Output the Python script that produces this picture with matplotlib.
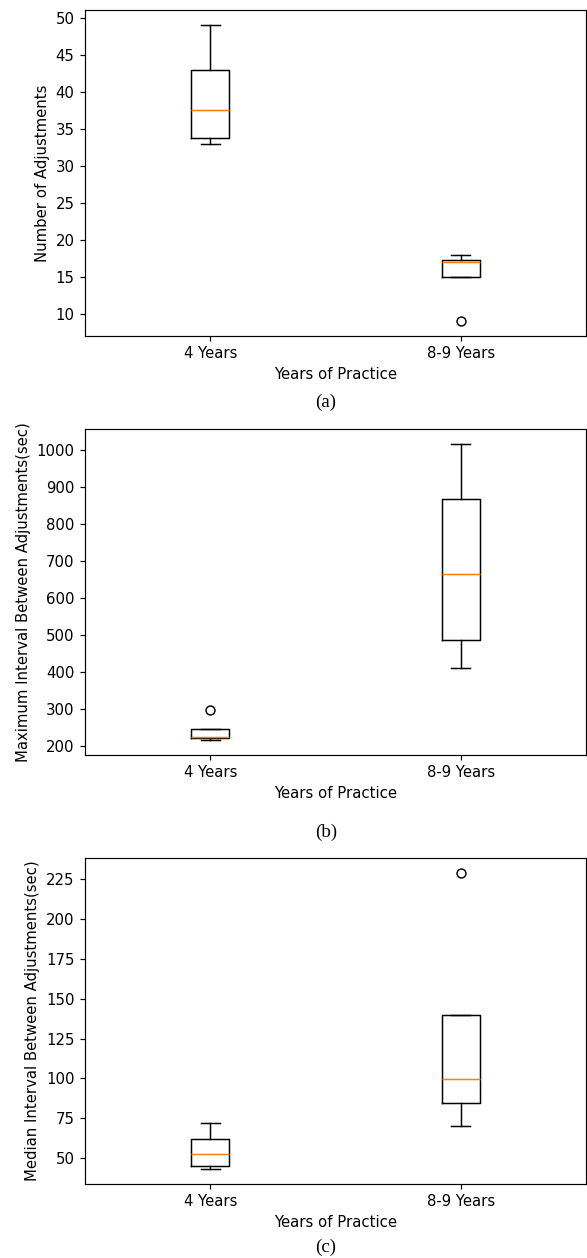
import matplotlib
matplotlib.use("Agg")
import matplotlib.pyplot as plt

groups = ["4 Years", "8-9 Years"]

# Panel (a): Number of Adjustments  [whislo, q1, med, q3, whishi]
a_4 = [33.0, 33.7, 37.5, 43.0, 49.0]
a_4_fliers = []
a_89 = [15.0, 15.0, 17.0, 17.3, 18.0]
a_89_fliers = [9.0]

# Panel (b): Maximum Interval Between Adjustments (sec)
b_4 = [217.0, 221.0, 226.0, 247.0, 247.0]
b_4_fliers = [299.0]
b_89 = [410.0, 487.0, 666.0, 868.0, 1016.0]
b_89_fliers = []

# Panel (c): Median Interval Between Adjustments (sec)
c_4 = [43.0, 45.2, 52.5, 62.0, 72.0]
c_4_fliers = []
c_89 = [70.0, 84.3, 99.6, 140.0, 140.0]
c_89_fliers = [229.0]

ylabels = ["Number of Adjustments",
           "Maximum Interval Between Adjustments(sec)",
           "Median Interval Between Adjustments(sec)"]
captions = ["(a)", "(b)", "(c)"]


def make_stats(vals, fliers, label):
    return dict(whislo=vals[0], q1=vals[1], med=vals[2], q3=vals[3],
                whishi=vals[4], fliers=fliers, label=label)


panels = [
    [make_stats(a_4, a_4_fliers, groups[0]), make_stats(a_89, a_89_fliers, groups[1])],
    [make_stats(b_4, b_4_fliers, groups[0]), make_stats(b_89, b_89_fliers, groups[1])],
    [make_stats(c_4, c_4_fliers, groups[0]), make_stats(c_89, c_89_fliers, groups[1])],
]

W, H = 587, 1258
DPI = 107
fig = plt.figure(figsize=(W / DPI, H / DPI), dpi=DPI)

# axes pixel extents (top, bottom)
extents = [(10.3, 336.0), (429.3, 754.7), (858.3, 1184.0)]
caption_y = [402, 832, 1247]
left_px, right_px = 85.0, 586.0

for i, (stats, (top, bot)) in enumerate(zip(panels, extents)):
    ax = fig.add_axes([left_px / W, 1 - bot / H, (right_px - left_px) / W, (bot - top) / H])
    ax.bxp(stats, positions=[1, 2])
    ax.set_ylabel(ylabels[i])
    ax.set_xlabel("Years of Practice")
    fig.text(326 / W, 1 - caption_y[i] / H, captions[i], ha="center", va="center",
             fontsize=12.7, family=["Liberation Serif", "DejaVu Serif"])

fig.savefig("out.png", dpi=DPI)
